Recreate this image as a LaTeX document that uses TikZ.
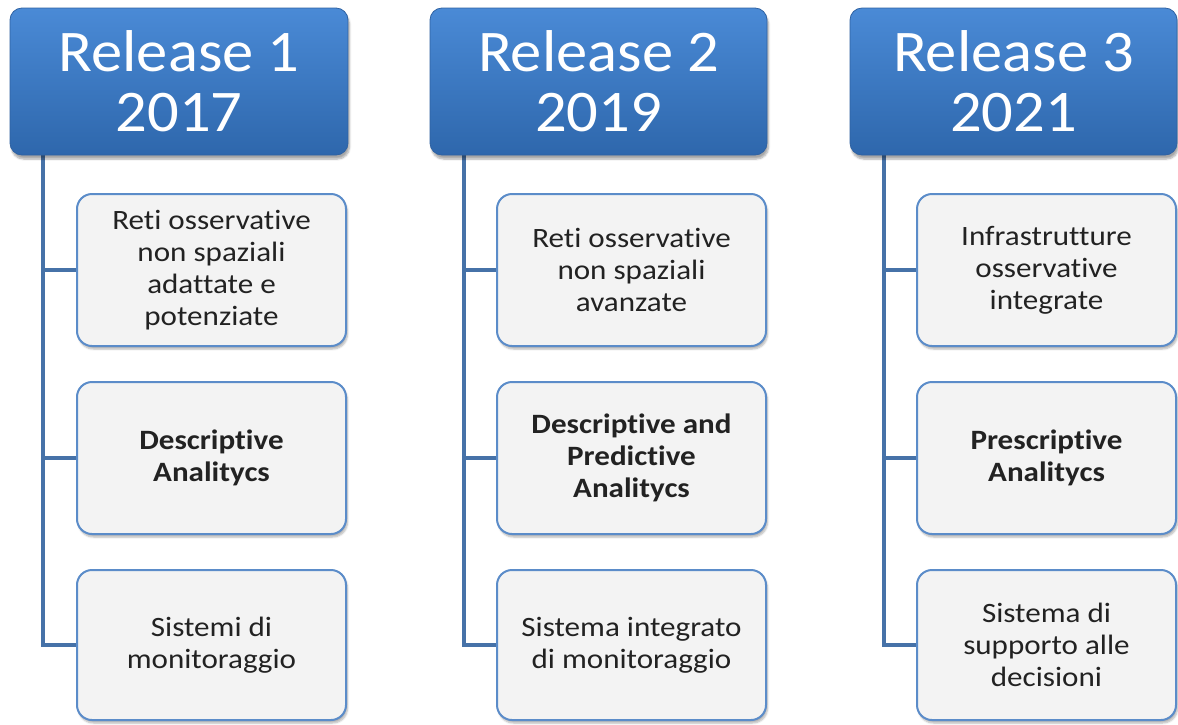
\documentclass[tikz,border=0pt]{standalone}
\usepackage{fontspec}
\setmainfont{Carlito}[Ligatures=NoCommon]
\newfontfamily\hdrfont{Carlito}[FakeStretch=1.06, Ligatures=NoCommon]
\newfontfamily\cardfont{Carlito}[FakeStretch=1.11, Ligatures=NoCommon]
\usetikzlibrary{shadows.blur,backgrounds}

\definecolor{hdrtop}{HTML}{4A8AD6}
\definecolor{hdrbot}{HTML}{2E67AC}
\definecolor{hdrline}{HTML}{2F62A2}
\definecolor{linkblue}{HTML}{4672A8}
\definecolor{cardline}{HTML}{5B8CC9}
\definecolor{cardfill}{HTML}{F3F3F3}
\definecolor{cardtext}{HTML}{222222}

\begin{document}
\begin{tikzpicture}[x=1pt,y=-1pt,
  release/.style={draw=hdrline, line width=0.8pt, rounded corners=12pt,
    top color=hdrtop, bottom color=hdrbot,
    blur shadow={shadow xshift=1.5pt, shadow yshift=-4pt, shadow blur steps=6, shadow opacity=35},
    inner sep=0pt, minimum height=147pt, align=center, text=white,
    font=\hdrfont\fontsize{59}{60}\selectfont},
  card/.style={draw=cardline, line width=2pt, rounded corners=15pt, fill=cardfill,
    blur shadow={shadow xshift=1.5pt, shadow yshift=-3pt, shadow blur steps=5, shadow opacity=30},
    inner sep=0pt, align=center, text=cardtext,
    font=\cardfont\fontsize{28}{32}\selectfont},
  link/.style={draw=linkblue, line width=4.5pt}]

\useasboundingbox (0,0) rectangle (1178,724);

% release headers
\node[release, minimum width=338pt] (h1) at (179,81.5) {Release 1\\2017};
\node[release, minimum width=337pt] (h2) at (598.5,81.5) {Release 2\\2019};
\node[release, minimum width=327pt] (h3) at (1013.5,81.5) {Release 3\\2021};

% column 1
\node[card, minimum width=269pt, minimum height=152pt] (a1) at (211.5,270)
  {Reti osservative\\non spaziali\\adattate e\\potenziate};
\node[card, minimum width=269pt, minimum height=152pt] (a2) at (211.5,458)
  {\bfseries Descriptive\\\bfseries Analitycs};
\node[card, minimum width=269pt, minimum height=150pt] (a3) at (211.5,645)
  {Sistemi di\\monitoraggio};

% column 2
\node[card, minimum width=269pt, minimum height=152pt] (b1) at (631.5,270)
  {Reti osservative\\non spaziali\\avanzate};
\node[card, minimum width=269pt, minimum height=152pt] (b2) at (631.5,458)
  {\bfseries Descriptive and\\\bfseries Predictive\\\bfseries Analitycs};
\node[card, minimum width=269pt, minimum height=150pt] (b3) at (631.5,645)
  {Sistema integrato\\di monitoraggio};

% column 3
\node[card, minimum width=259pt, minimum height=152pt] (c1) at (1046.5,270)
  {Infrastrutture\\osservative\\integrate};
\node[card, minimum width=259pt, minimum height=152pt] (c2) at (1046.5,458)
  {\bfseries Prescriptive\\\bfseries Analitycs};
\node[card, minimum width=259pt, minimum height=150pt] (c3) at (1046.5,645)
  {Sistema di\\supporto alle\\decisioni};

% spines of the three trees
\coordinate (t1) at (43,0);
\coordinate (t2) at (464,0);
\coordinate (t3) at (884,0);

\begin{pgfonlayer}{background}
  \foreach \h/\t/\x in {h1/t1/a, h2/t2/b, h3/t3/c} {
    \draw[link] (\t |- \h.south) |- (\x3.west);
    \draw[link] (\t |- \x1.west) -- (\x1.west);
    \draw[link] (\t |- \x2.west) -- (\x2.west);
  }
\end{pgfonlayer}
\end{tikzpicture}
\end{document}
